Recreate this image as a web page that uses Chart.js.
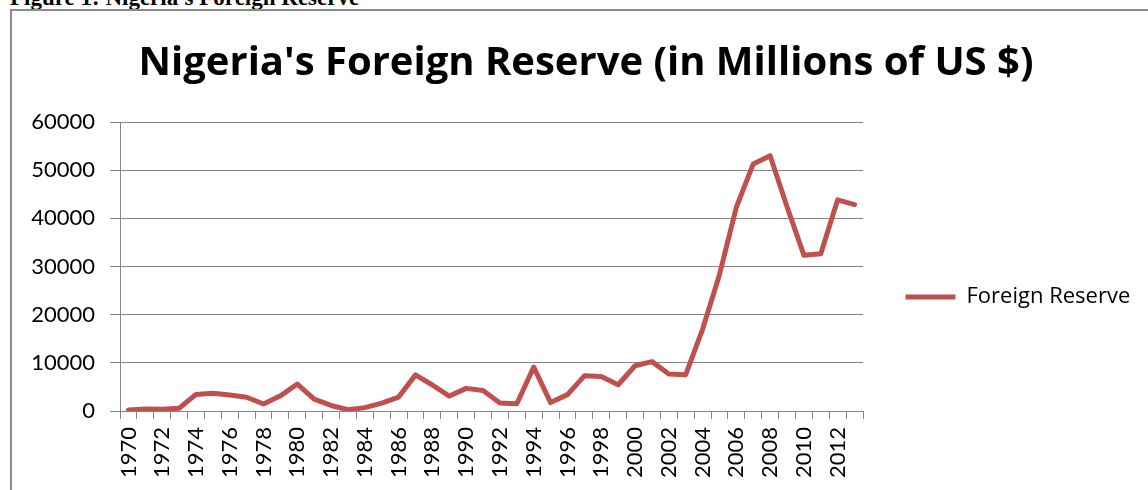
<!DOCTYPE html>
<html>
<head>
<meta charset="utf-8">
<script src="https://cdn.jsdelivr.net/npm/chart.js@4.4.1/dist/chart.umd.min.js"></script>
<style>
  html, body { margin: 0; padding: 0; background: #fff; width: 1148px; height: 490px; overflow: hidden; }
  #wrap { position: relative; width: 1148px; height: 490px; }
  #hdr { position: absolute; left: 10px; top: -14px; font: bold 23px "Liberation Serif", "Times New Roman", serif; line-height: 23px; color: #000; white-space: nowrap; }
  #frame { position: absolute; left: 10px; top: 9px; width: 1160px; height: 500px; border: 2px solid #8a8a8a; box-sizing: border-box; }
  canvas { position: absolute; left: 0; top: 0; }
</style>
</head>
<body>
<div id="wrap">
  <div id="hdr">Figure 1: Nigeria's Foreign Reserve</div>
  <div id="frame"></div>
  <canvas id="c" width="1148" height="490"></canvas>
</div>
<script>
const chartTitle = "Nigeria's Foreign Reserve (in Millions of US $)";
const seriesName = "Foreign Reserve";
const years = ["1970","1971","1972","1973","1974","1975","1976","1977","1978","1979",
  "1980","1981","1982","1983","1984","1985","1986","1987","1988","1989",
  "1990","1991","1992","1993","1994","1995","1996","1997","1998","1999",
  "2000","2001","2002","2003","2004","2005","2006","2007","2008","2009",
  "2010","2011","2012","2013"];
const reserve = [200, 400, 355, 560, 3450, 3700, 3300, 2850, 1450, 3150,
  5600, 2450, 1150, 250, 700, 1650, 2900, 7500, 5400, 3100,
  4700, 4250, 1650, 1500, 9100, 1750, 3400, 7300, 7150, 5450,
  9400, 10250, 7700, 7550, 16950, 28300, 42300, 51300, 53000, 42400,
  32350, 32650, 43850, 42850];
const yTicks = [0, 10000, 20000, 30000, 40000, 50000, 60000];

const gridColor = '#868686';
const lineColor = '#C0504D';
const tickFont = 'Lato, "Open Sans", sans-serif';
const headFont = '"Open Sans", Lato, sans-serif';

const legendTweak = {
  id: 'legendTweak',
  afterInit(chart) {
    const lg = chart.legend;
    if (lg) {
      const origFit = lg.fit.bind(lg);
      lg.fit = function () { origFit(); this.width = 285; this.minSize = {width: 285, height: this.height}; };
    }
  },
  afterLayout(chart) {
    const lg = chart.legend;
    if (lg) { lg.top += 52; lg.bottom += 52; }
  }
};

new Chart(document.getElementById('c'), {
  type: 'line',
  data: {
    labels: years,
    datasets: [{
      label: seriesName,
      data: reserve,
      borderColor: lineColor,
      backgroundColor: lineColor,
      borderWidth: 5,
      pointRadius: 0,
      pointHoverRadius: 0,
      tension: 0,
      borderJoinStyle: 'round',
      borderCapStyle: 'round',
      fill: false
    }]
  },
  options: {
    responsive: false,
    animation: false,
    events: [],
    layout: { padding: { left: 24, right: 0, top: 0, bottom: 0 } },
    plugins: {
      title: {
        display: true,
        text: chartTitle,
        color: '#000',
        font: { family: headFont, size: 40, weight: 'bold' },
        padding: { top: 40, bottom: 34 }
      },
      legend: {
        display: true,
        position: 'right',
        align: 'center',
        labels: {
          color: '#000',
          font: { family: headFont, size: 22 },
          usePointStyle: true,
          pointStyle: 'line',
          pointStyleWidth: 50,
          padding: 42.5
        }
      },
      tooltip: { enabled: false }
    },
    scales: {
      x: {
        type: 'category',
        offset: true,
        grid: { display: true, drawOnChartArea: false, drawTicks: true, tickLength: 8, offset: true, color: gridColor, lineWidth: 1 },
        border: { display: true, color: gridColor, width: 1 },
        ticks: {
          autoSkip: false,
          maxRotation: 90,
          minRotation: 90,
          padding: 8,
          color: '#000',
          font: { family: tickFont, size: 22 },
          callback: function (v, i) { return i % 2 === 0 ? years[i] : ''; }
        },
        afterFit(scale) { scale.height = 79; }
      },
      y: {
        min: 0,
        max: 60000,
        afterBuildTicks(scale) { scale.ticks = yTicks.map(v => ({ value: v })); },
        grid: { color: gridColor, lineWidth: 1, drawTicks: true, tickLength: 10 },
        border: { display: true, color: gridColor, width: 1 },
        ticks: {
          padding: 15,
          color: '#000',
          font: { family: tickFont, size: 22 },
          callback: v => String(v)
        },
        afterFit(scale) { scale.width = 96; }
      }
    }
  },
  plugins: [legendTweak]
});
</script>
</body>
</html>
